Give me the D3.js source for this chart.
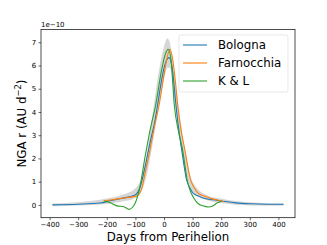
<!DOCTYPE html>
<html>
<head>
<meta charset="utf-8">
<script src="https://cdn.jsdelivr.net/npm/d3@7"></script>
<style>
  html, body { margin: 0; padding: 0; background: #fff; }
  svg { display: block; font-family: "DejaVu Sans", sans-serif; }
</style>
</head>
<body>
<div id="chart"></div>
<script>
// Days from perihelion / NGA radial accel (units of 1e-10 AU d^-2)
const bolognaDays = [-390, -300, -223, -188, -150, -101, -84, -66, -49, -31, -21, -8, 5, 18, 28, 41, 50, 62, 79, 90, 101, 120, 136, 170, 200, 250, 300, 360, 418];
const bolognaVals = [0.0, 0.03, 0.08, 0.18, 0.28, 0.43, 0.75, 1.65, 2.67, 3.66, 4.4, 5.4, 6.1, 6.34, 5.95, 4.4, 3.4, 2.37, 1.08, 0.75, 0.52, 0.38, 0.3, 0.22, 0.17, 0.09, 0.05, 0.03, 0.03];

const farnocchiaDays = [-210, -150, -95, -78, -66, -49, -33, -17, 0, 10, 21, 30, 40, 48, 60, 73, 93, 105, 118, 140, 171, 190, 209];
const farnocchiaVals = [0.17, 0.28, 0.39, 0.7, 1.38, 2.37, 3.4, 4.3, 5.6, 6.3, 6.7, 6.3, 5.3, 4.3, 3.2, 2.37, 1.08, 0.75, 0.52, 0.38, 0.26, 0.2, 0.14];

const klDays = [-211, -190, -165, -140, -122, -110, -101, -84, -66, -49, -29, -10, 5, 15, 25, 36, 50, 65, 81, 92, 104, 120, 136, 155, 170, 185, 202];
const klVals = [0.17, 0.1, -0.04, -0.08, -0.19, -0.1, 0.07, 0.79, 2.08, 3.2, 4.3, 5.7, 6.5, 6.7, 6.2, 4.3, 3.2, 2.37, 1.08, 0.6, 0.3, 0.05, -0.04, -0.09, -0.05, 0.08, 0.16];

// grey envelope of the sampled solutions
const bandDays = [-390, -300, -200, -150, -100, -80, -60, -40, -20, 0, 12, 20, 40, 60, 80, 100, 150, 200, 300, 418];
const bandUpper = [0.06, 0.12, 0.28, 0.42, 0.72, 1.1, 2.2, 3.9, 5.6, 6.8, 7.17, 7.0, 5.2, 3.4, 1.9, 1.0, 0.42, 0.27, 0.12, 0.06];
const bandLower = [-0.06, -0.02, 0.04, 0.14, 0.3, 0.55, 1.3, 2.6, 4.1, 5.4, 5.9, 5.9, 4.2, 2.4, 1.2, 0.6, 0.2, 0.08, -0.02, -0.04];

const xTicks = [-400, -300, -200, -100, 0, 100, 200, 300, 400];
const yTicks = [0, 1, 2, 3, 4, 5, 6, 7];

const seriesNames = ['Bologna', 'Farnocchia', 'K & L'];
const seriesColors = ['#1f77b4', '#ff7f0e', '#2ca02c'];

const W = 327, H = 245;
const M = { top: 29.5, right: 32, bottom: 27.3, left: 41 };

const svg = d3.select('#chart').append('svg')
  .attr('width', W).attr('height', H);

const x = d3.scaleLinear().domain([-430, 458]).range([M.left, W - M.right]);
const y = d3.scaleLinear().domain([-0.55, 7.55]).range([H - M.bottom, M.top]);

const defs = svg.append('defs');
defs.append('filter').attr('id', 'soft')
  .append('feGaussianBlur').attr('stdDeviation', 0.7);

// Band
const bandRows = bandDays.map((d, i) => ({ d, lo: bandLower[i], hi: bandUpper[i] }));
svg.append('path')
  .datum(bandRows)
  .attr('d', d3.area()
    .x(r => x(r.d)).y0(r => y(r.lo)).y1(r => y(r.hi))
    .curve(d3.curveMonotoneX))
  .attr('fill', '#cfcfcf')
  .attr('opacity', 0.85)
  .attr('filter', 'url(#soft)');

// Curves
const series = [
  { days: bolognaDays, vals: bolognaVals },
  { days: farnocchiaDays, vals: farnocchiaVals },
  { days: klDays, vals: klVals },
];
const line = d3.line()
  .x(p => x(p[0])).y(p => y(p[1]))
  .curve(d3.curveMonotoneX);

series.forEach((s, i) => {
  svg.append('path')
    .datum(s.days.map((d, j) => [d, s.vals[j]]))
    .attr('d', line)
    .attr('fill', 'none')
    .attr('stroke', seriesColors[i])
    .attr('stroke-width', 1.1)
    .attr('stroke-linejoin', 'round');
});

// Axes
const xAxis = svg.append('g')
  .attr('transform', `translate(0,${H - M.bottom})`)
  .call(d3.axisBottom(x).tickValues(xTicks).tickSize(2.5).tickPadding(2.2)
    .tickFormat(d => d < 0 ? '\u2212' + Math.abs(d) : d));
const yAxis = svg.append('g')
  .attr('transform', `translate(${M.left},0)`)
  .call(d3.axisLeft(y).tickValues(yTicks).tickSize(2.5).tickPadding(2.2));

[xAxis, yAxis].forEach(g => {
  g.select('.domain').remove();
  g.selectAll('line').attr('stroke', '#000').attr('stroke-width', 0.6);
  g.selectAll('text').attr('fill', '#000')
    .style('font-size', '7px').style('font-family', '"DejaVu Sans", sans-serif');
});

// Frame
svg.append('rect')
  .attr('x', M.left).attr('y', M.top)
  .attr('width', W - M.right - M.left).attr('height', H - M.bottom - M.top)
  .attr('fill', 'none').attr('stroke', '#000').attr('stroke-width', 0.7);

// Offset text
svg.append('text')
  .attr('x', M.left).attr('y', M.top - 3)
  .style('font-size', '7px')
  .text('1e\u221210');

// Axis labels
svg.append('text')
  .attr('x', (M.left + W - M.right) / 2).attr('y', 240.5)
  .attr('text-anchor', 'middle')
  .style('font-size', '11.8px')
  .text('Days from Perihelion');

const yl = svg.append('text')
  .attr('transform', `translate(25.5,${(M.top + H - M.bottom) / 2}) rotate(-90)`)
  .attr('text-anchor', 'middle')
  .style('font-size', '11.8px');
yl.append('tspan').text('NGA r (AU d');
yl.append('tspan').attr('dy', -4.7).style('font-size', '8.3px').text('\u22122');
yl.append('tspan').attr('dy', 4.7).text(')');

// Legend
const lg = svg.append('g').attr('transform', 'translate(179,35)');
lg.append('rect')
  .attr('width', 109).attr('height', 57).attr('rx', 2)
  .attr('fill', '#fff').attr('fill-opacity', 0.8)
  .attr('stroke', '#d8d8d8').attr('stroke-width', 0.6);
seriesNames.forEach((name, i) => {
  const yy = 10 + i * 18;
  lg.append('line')
    .attr('x1', 4).attr('x2', 28).attr('y1', yy).attr('y2', yy)
    .attr('stroke', seriesColors[i]).attr('stroke-width', 1.1);
  lg.append('text')
    .attr('x', 39).attr('y', yy + 4.2)
    .style('font-size', '11.8px')
    .text(name);
});
</script>
</body>
</html>
